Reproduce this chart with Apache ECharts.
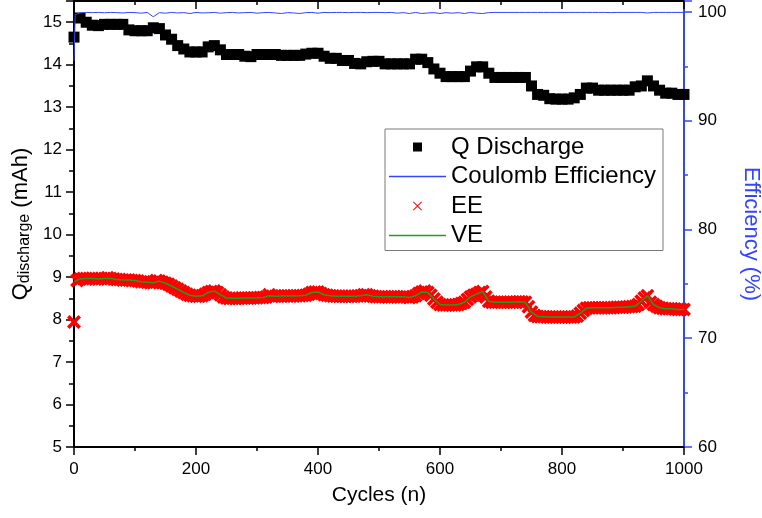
<!DOCTYPE html>
<html><head><meta charset="utf-8">
<script src="https://cdn.jsdelivr.net/npm/echarts@6/dist/echarts.min.js"></script>
<style>html,body{margin:0;padding:0;background:#fff}#c{width:762px;height:518px}</style>
</head><body><div id="c"></div>
<script>
// cycle positions for Q discharge and VE (every 10 cycles)
const cycles = [0,10,20,30,40,50,60,70,80,90,100,110,120,130,140,150,160,170,180,190,
200,210,220,230,240,250,260,270,280,290,300,310,320,330,340,350,360,370,380,390,
400,410,420,430,440,450,460,470,480,490,500,510,520,530,540,550,560,570,580,590,
600,610,620,630,640,650,660,670,680,690,700,710,720,730,740,750,760,770,780,790,
800,810,820,830,840,850,860,870,880,890,900,910,920,930,940,950,960,970,980,990,1000];

// Q discharge (mAh), left axis
const qDischarge = [14.65,15.1,15.0,14.93,14.92,14.95,14.95,14.95,14.95,14.82,
14.8,14.8,14.8,14.87,14.85,14.7,14.6,14.45,14.37,14.3,
14.3,14.3,14.42,14.45,14.35,14.24,14.24,14.24,14.2,14.19,
14.24,14.24,14.24,14.24,14.22,14.22,14.22,14.22,14.25,14.27,
14.27,14.2,14.15,14.15,14.1,14.1,14.03,14.02,14.07,14.08,
14.08,14.02,14.02,14.02,14.02,14.02,14.13,14.13,14.05,13.9,
13.8,13.72,13.72,13.72,13.72,13.85,13.95,13.95,13.8,13.7,
13.7,13.7,13.7,13.7,13.7,13.5,13.3,13.28,13.2,13.19,
13.19,13.19,13.22,13.3,13.45,13.45,13.4,13.4,13.4,13.4,
13.4,13.4,13.48,13.5,13.62,13.5,13.4,13.33,13.33,13.3,13.3];

// VE (%), right axis
const veValues = [75.2,75.45,75.5,75.5,75.45,75.5,75.5,75.4,75.35,75.35,
75.3,75.2,75.15,75.1,75.25,75.05,74.8,74.5,74.2,73.95,
73.85,73.9,74.2,74.35,74.0,73.7,73.67,73.67,73.7,73.7,
73.72,73.75,73.9,73.85,73.88,73.88,73.88,73.9,73.95,74.2,
74.25,74.0,73.9,73.85,73.85,73.85,73.85,73.9,74.0,73.85,
73.82,73.82,73.82,73.82,73.82,73.75,73.9,74.25,74.2,73.6,
73.1,73.05,73.05,73.1,73.3,73.8,74.05,74.3,73.4,73.3,
73.3,73.3,73.3,73.35,73.3,72.4,72.0,71.98,71.95,71.95,
71.95,71.95,71.95,72.3,72.75,72.8,72.8,72.8,72.8,72.85,
72.85,72.9,72.95,73.4,73.9,73.1,72.8,72.7,72.7,72.65,72.65];

// cycle positions for EE (every 5 cycles)
const eeCycles = [0,5,10,15,20,25,30,35,40,45,50,55,60,65,70,75,80,85,90,95,
100,105,110,115,120,125,130,135,140,145,150,155,160,165,170,175,180,185,190,195,
200,205,210,215,220,225,230,235,240,245,250,255,260,265,270,275,280,285,290,295,
300,305,310,315,320,325,330,335,340,345,350,355,360,365,370,375,380,385,390,395,
400,405,410,415,420,425,430,435,440,445,450,455,460,465,470,475,480,485,490,495,
500,505,510,515,520,525,530,535,540,545,550,555,560,565,570,575,580,585,590,595,
600,605,610,615,620,625,630,635,640,645,650,655,660,665,670,675,680,685,690,695,
700,705,710,715,720,725,730,735,740,745,750,755,760,765,770,775,780,785,790,795,
800,805,810,815,820,825,830,835,840,845,850,855,860,865,870,875,880,885,890,895,
900,905,910,915,920,925,930,935,940,945,950,955,960,965,970,975,980,985,990,995,1000];

// EE (%), right axis
const eeValues = [71.5,75.3,75.45,75.5,75.5,75.5,75.5,75.45,75.45,75.5,
75.5,75.55,75.5,75.45,75.4,75.4,75.35,75.35,75.35,75.3,
75.3,75.25,75.2,75.2,75.15,75.1,75.1,75.3,75.25,75.15,
75.05,74.95,74.8,74.65,74.5,74.35,74.2,74.05,73.95,73.9,
73.85,73.85,73.9,74.05,74.2,74.3,74.35,74.2,74.0,73.8,
73.7,73.65,73.67,73.65,73.67,73.7,73.7,73.7,73.7,73.72,
73.72,73.75,73.75,73.8,74.0,73.85,73.85,73.88,73.88,73.9,
73.88,73.88,73.88,73.9,73.9,73.92,73.95,74.05,74.2,74.25,
74.25,74.1,74.0,73.95,73.9,73.88,73.85,73.85,73.85,73.85,
73.85,73.85,73.85,73.88,73.9,74.0,74.0,73.9,73.85,73.82,
73.82,73.82,73.82,73.8,73.82,73.82,73.82,73.8,73.82,73.8,
73.75,73.8,73.9,74.1,74.25,74.35,74.2,73.95,73.6,73.3,
73.1,73.05,73.05,73.05,73.05,73.05,73.1,73.2,73.3,73.55,
73.8,73.95,74.05,74.2,74.3,73.8,73.4,73.3,73.3,73.3,
73.3,73.3,73.3,73.3,73.3,73.32,73.35,73.32,73.3,72.9,
72.4,72.1,72.0,71.98,71.98,71.95,71.95,71.95,71.95,71.95,
71.95,71.95,71.95,71.95,71.95,72.05,72.3,72.55,72.75,72.8,
72.8,72.8,72.8,72.8,72.8,72.8,72.8,72.82,72.85,72.85,
72.85,72.88,72.9,72.92,72.95,73.1,73.4,73.7,73.9,73.3,
73.1,72.95,72.8,72.75,72.7,72.7,72.7,72.68,72.65,72.65,72.65];

// Coulomb efficiency (%), right axis
const ceCycles = [0,2,10,20,30,40,50,60,70,80,90,100,110,120,130,140,150,160,170,180,190,
200,210,220,230,240,250,260,270,280,290,300,310,320,330,340,350,360,370,380,390,
400,410,420,430,440,450,460,470,480,490,500,510,520,530,540,550,560,570,580,590,
600,610,620,630,640,650,660,670,680,690,700,710,720,730,740,750,760,770,780,790,
800,810,820,830,840,850,860,870,880,890,900,910,920,930,940,950,960,970,980,990,1000];
const ceValues = [95.5,99.75,99.9,99.95,99.93,99.95,99.92,99.95,99.93,99.9,99.95,
99.93,99.88,99.95,99.55,99.93,99.88,99.95,99.9,99.93,99.85,
99.95,99.9,99.92,99.95,99.88,99.93,99.95,99.9,99.93,99.95,
99.88,99.93,99.95,99.9,99.85,99.93,99.9,99.85,99.93,99.95,
99.88,99.95,99.93,99.95,99.95,99.93,99.95,99.95,99.93,99.95,
99.95,99.93,99.95,99.88,99.93,99.85,99.95,99.85,99.9,99.93,
99.85,99.93,99.88,99.93,99.85,99.95,99.88,99.85,99.93,99.95,
99.95,99.95,99.95,99.95,99.95,99.95,99.95,99.95,99.95,99.95,
99.95,99.95,99.95,99.95,99.95,99.95,99.95,99.95,99.93,99.95,
99.95,99.95,99.95,99.95,99.9,99.95,99.95,99.95,99.95,99.95,99.95];

const seriesNames = ['Q Discharge','Coulomb Efficiency','EE','VE'];

const pairs = (xs, ys) => xs.map((x, i) => [x, ys[i]]);
const FONT = "'Liberation Sans', Arial, sans-serif";
const BLUE = '#3346ff';
const RED = '#ff0000';
const GREEN = '#1e9e1e';
// filled "x" marks: thick one for the data band, thin one for the legend
const crossPath = 'path://M0,18L18,0L50,32L82,0L100,18L68,50L100,82L82,100L50,68L18,100L0,82L32,50Z';
const crossThin = 'path://M0,7L7,0L50,43L93,0L100,7L57,50L100,93L93,100L50,57L7,100L0,93L43,50Z';
const squarePath = 'path://M0,0L10,0L10,10L0,10Z';
const lineIcon = 'path://M0,0L57,0L57,1.4L0,1.4Z';

const tickStyle = {color:'#000', width:1.5};
const baseX = {
  type:'value', min:0, max:1000, interval:200,
  axisLine:{show:true, onZero:false, lineStyle:{color:'#000', width:2}},
  splitLine:{show:false}, minorSplitLine:{show:false}
};

const chart = echarts.init(document.getElementById('c'), null, {renderer:'canvas'});
chart.setOption({
  animation:false,
  backgroundColor:'#fff',
  grid:{left:74, right:78, top:1, bottom:71, show:false, containLabel:false, outerBoundsMode:'none'},
  legend:{
    orient:'vertical', left:385, top:129, padding:[6,7,3,4], itemGap:5.5,
    itemWidth:57, itemHeight:9, borderColor:'#7a7a7a', borderWidth:1,
    selectedMode:false,
    textStyle:{fontSize:24, color:'#000', fontFamily:FONT},
    data:[
      {name:seriesNames[0], icon:squarePath},
      {name:seriesNames[1], icon:lineIcon},
      {name:seriesNames[2], icon:crossThin},
      {name:seriesNames[3], icon:lineIcon}
    ]
  },
  xAxis:[
    Object.assign({}, baseX, {
      position:'bottom', name:'Cycles (n)', nameLocation:'middle', nameGap:38,
      nameTextStyle:{fontSize:21, color:'#000', fontFamily:FONT},
      axisTick:{show:true, inside:false, length:8, lineStyle:tickStyle},
      minorTick:{show:true, splitNumber:2, length:4, lineStyle:tickStyle},
      axisLabel:{fontSize:17, color:'#000', margin:14, fontFamily:FONT, formatter:(v) => String(v)}
    }),
    Object.assign({}, baseX, {
      position:'top',
      axisTick:{show:true, inside:true, length:8, lineStyle:tickStyle},
      minorTick:{show:true, splitNumber:2, length:4, lineStyle:tickStyle},
      axisLabel:{show:false}
    })
  ],
  yAxis:[
    {
      type:'value', position:'left', min:5, max:15.5, interval:1,
      name:'{q|Q}{s|discharge}{q| (mAh)}', nameLocation:'middle', nameGap:34,
      nameTextStyle:{color:'#000', fontFamily:FONT, fontSize:22,
        rich:{
          q:{fontSize:22, fontFamily:FONT, color:'#000', lineHeight:22, verticalAlign:'top'},
          s:{fontSize:16, fontFamily:FONT, color:'#000', lineHeight:16, padding:[10,0,0,0], verticalAlign:'bottom'}
        }},
      axisLine:{show:true, onZero:false, lineStyle:{color:'#000', width:2}},
      axisTick:{show:true, inside:false, length:8, lineStyle:tickStyle},
      minorTick:{show:true, splitNumber:2, length:5, lineStyle:tickStyle},
      axisLabel:{fontSize:17, color:'#000', margin:12, fontFamily:FONT, showMaxLabel:false},
      splitLine:{show:false}, minorSplitLine:{show:false}
    },
    {
      type:'value', position:'right', min:60, max:101, interval:10,
      name:'Efficiency (%)', nameLocation:'middle', nameGap:56, nameRotate:-90,
      nameTextStyle:{color:BLUE, fontFamily:FONT, fontSize:22, padding:[0,0,0,20]},
      axisLine:{show:true, onZero:false, lineStyle:{color:BLUE, width:2}},
      axisTick:{show:true, inside:false, length:8, lineStyle:{color:BLUE, width:1.5}},
      minorTick:{show:true, splitNumber:2, length:4, lineStyle:{color:BLUE, width:1.5}},
      axisLabel:{fontSize:17, color:'#000', margin:14, fontFamily:FONT, showMaxLabel:false},
      splitLine:{show:false}, minorSplitLine:{show:false}
    }
  ],
  series:[
    {name:seriesNames[0], type:'scatter', xAxisIndex:0, yAxisIndex:0, symbol:'rect', symbolSize:11,
     itemStyle:{color:'#000', opacity:1}, data:pairs(cycles, qDischarge), z:2},
    {name:seriesNames[1], type:'line', xAxisIndex:0, yAxisIndex:1, symbol:'none', showSymbol:false,
     lineStyle:{color:BLUE, width:1}, itemStyle:{color:BLUE}, data:pairs(ceCycles, ceValues), z:3},
    {name:seriesNames[2], type:'scatter', xAxisIndex:0, yAxisIndex:1, symbol:crossPath, symbolSize:14,
     itemStyle:{color:RED, opacity:1}, data:pairs(eeCycles, eeValues), z:4},
    {name:seriesNames[3], type:'line', xAxisIndex:0, yAxisIndex:1, symbol:'none', showSymbol:false,
     lineStyle:{color:GREEN, width:1.5}, itemStyle:{color:GREEN}, data:pairs(cycles, veValues), z:5}
  ]
});
</script>
</body></html>
